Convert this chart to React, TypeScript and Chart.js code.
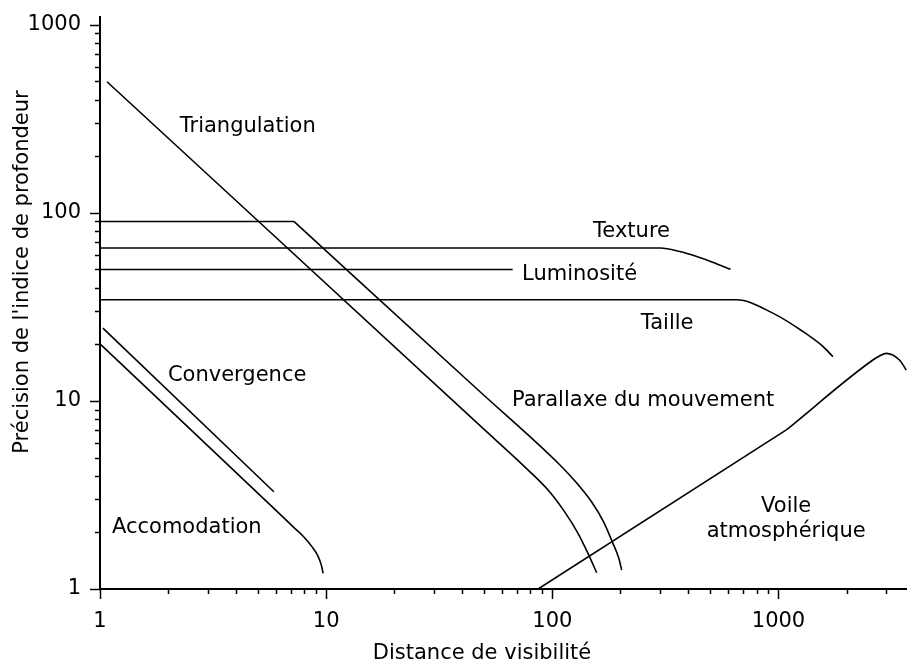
import { useEffect, useRef } from "react";
import { Chart, registerables } from "chart.js";

Chart.register(...registerables);

type P = { x: number; y: number };

// ---- data (log-log axes) ----
const xRange = [1, 3700];
const yRange = [1, 1100];
const xTickLabels = [1, 10, 100, 1000];
const yTickLabels = [1, 10, 100, 1000];

const triangulation: P[] = [
  { x: 1.074, y: 498 },
  { x: 47.77, y: 7.41 },
  { x: 79.46, y: 4.21 },
  { x: 97.4, y: 3.28 },
  { x: 113.4, y: 2.57 },
  { x: 129.5, y: 1.99 },
  { x: 144.8, y: 1.52 },
  { x: 157.1, y: 1.22 },
];
const parallaxeFlat: P[] = [
  { x: 1, y: 90 },
  { x: 7.2, y: 90 },
];
const parallaxeFall: P[] = [
  { x: 7.2, y: 90 },
  { x: 47.77, y: 11.22 },
  { x: 107.8, y: 4.58 },
  { x: 128.2, y: 3.66 },
  { x: 149.3, y: 2.9 },
  { x: 168.7, y: 2.27 },
  { x: 184.9, y: 1.76 },
  { x: 196.6, y: 1.46 },
  { x: 202.6, y: 1.26 },
];
const texture: P[] = [
  { x: 1, y: 65 },
  { x: 300, y: 65 },
  { x: 366, y: 62.3 },
  { x: 435, y: 58.6 },
  { x: 511, y: 54.7 },
  { x: 614, y: 50.07 },
];
const luminosite: P[] = [
  { x: 1, y: 50 },
  { x: 66.8, y: 50 },
];
const taille: P[] = [
  { x: 1, y: 34.5 },
  { x: 651, y: 34.5 },
  { x: 944, y: 29.3 },
  { x: 1282, y: 23.4 },
  { x: 1571, y: 19.5 },
  { x: 1740, y: 17.2 },
];
const voileRise: P[] = [
  { x: 86.5, y: 1 },
  { x: 1083, y: 7.01 },
];
const voileTop: P[] = [
  { x: 1083, y: 7.01 },
  { x: 2613, y: 16.5 },
  { x: 2797, y: 17.35 },
  { x: 2995, y: 17.9 },
  { x: 3427, y: 16.5 },
  { x: 3670, y: 14.6 },
];
const convergence: P[] = [
  { x: 1.03, y: 24.4 },
  { x: 5.87, y: 3.29 },
];
const accomodation: P[] = [
  { x: 1, y: 20.1 },
  { x: 5.64, y: 2.81 },
  { x: 7.15, y: 2.14 },
  { x: 7.97, y: 1.89 },
  { x: 8.65, y: 1.68 },
  { x: 9.19, y: 1.5 },
  { x: 9.52, y: 1.34 },
  { x: 9.7, y: 1.21 },
];

// curve names, anchored in data coordinates (centre x, baseline y)
const curveNames = [
  { text: ["Triangulation"], x: 4.5, y: 269 },
  { text: ["Texture"], x: 224, y: 74.8 },
  { text: ["Luminosité"], x: 132, y: 43.8 },
  { text: ["Taille"], x: 322, y: 24.1 },
  { text: ["Convergence"], x: 4.04, y: 12.8 },
  { text: ["Parallaxe du mouvement"], x: 252, y: 9.41 },
  { text: ["Voile", "atmosphérique"], x: 1081, y: 2.57 },
  { text: ["Accomodation"], x: 2.42, y: 1.98 },
];

const xTitle = "Distance de visibilité";
const yTitle = "Précision de l'indice de profondeur";

const FONT = '"DejaVu Sans", "Liberation Sans", sans-serif';
const FONT_SIZE = 21;

const tickPlugin = {
  id: "logTicks",
  afterDraw(chart: any) {
    const { ctx, chartArea, scales } = chart;
    const xs = scales.x;
    const ys = scales.y;
    ctx.save();
    ctx.strokeStyle = "#000";
    ctx.lineWidth = 1.5;
    for (let k = 0; k < 5; k++) {
      for (let d = 1; d <= 9; d++) {
        const v = d * Math.pow(10, k);
        const len = d === 1 ? 10 : 5;
        if (v >= ys.min && v <= ys.max) {
          const py = Math.round(ys.getPixelForValue(v)) + 0.5;
          ctx.beginPath();
          ctx.moveTo(chartArea.left - len, py);
          ctx.lineTo(chartArea.left, py);
          ctx.stroke();
        }
        if (v >= xs.min && v <= xs.max) {
          const px = Math.round(xs.getPixelForValue(v)) + 0.5;
          ctx.beginPath();
          ctx.moveTo(px, chartArea.bottom);
          ctx.lineTo(px, chartArea.bottom + len);
          ctx.stroke();
        }
      }
    }
    ctx.restore();
  },
};

const textPlugin = {
  id: "curveText",
  afterDraw(chart: any) {
    const { ctx, chartArea, scales } = chart;
    const xs = scales.x;
    const ys = scales.y;
    ctx.save();
    ctx.fillStyle = "#000";
    ctx.font = `${FONT_SIZE}px ${FONT}`;
    ctx.textAlign = "center";
    ctx.textBaseline = "alphabetic";
    curveNames.forEach((n) => {
      const px = xs.getPixelForValue(n.x);
      const py = ys.getPixelForValue(n.y);
      n.text.forEach((t, i) => ctx.fillText(t, px, py + i * 25.5));
    });
    // axis titles
    ctx.fillText(xTitle, chartArea.left + 382, chart.height - 5);
    ctx.translate(28, chartArea.top + 255);
    ctx.rotate(-Math.PI / 2);
    ctx.fillText(yTitle, 0, 0);
    ctx.restore();
  },
};

function ds(label: string, data: P[], curved: boolean) {
  return {
    label,
    data,
    borderColor: "#000",
    borderWidth: 1.6,
    pointRadius: 0,
    fill: false,
    tension: 0,
    cubicInterpolationMode: curved ? "monotone" : "default",
  };
}

const isPow10 = (v: number) => {
  const l = Math.log10(v);
  return Math.abs(l - Math.round(l)) < 1e-9;
};

const zeroPadding = (s: any) => {
  s.paddingLeft = 0;
  s.paddingRight = 0;
  s.paddingTop = 0;
  s.paddingBottom = 0;
};

export default function App() {
  const ref = useRef<HTMLCanvasElement | null>(null);
  useEffect(() => {
    if (!ref.current) return;
    const chart = new Chart(ref.current, {
      type: "line",
      data: {
        datasets: [
          ds("Triangulation", triangulation, true),
          ds("Parallaxe du mouvement", parallaxeFlat, false),
          ds("Parallaxe du mouvement", parallaxeFall, true),
          ds("Texture", texture, true),
          ds("Luminosité", luminosite, false),
          ds("Taille", taille, true),
          ds("Voile atmosphérique", voileRise, false),
          ds("Voile atmosphérique", voileTop, true),
          ds("Convergence", convergence, false),
          ds("Accomodation", accomodation, true),
        ] as any,
      },
      options: {
        responsive: false,
        animation: false,
        layout: { padding: { top: 17, right: 0, bottom: 0, left: 0 } },
        plugins: { legend: { display: false }, tooltip: { enabled: false } },
        scales: {
          x: {
            type: "logarithmic",
            min: xRange[0],
            max: xRange[1],
            grid: { display: false, drawTicks: false },
            border: { display: true, color: "#000", width: 2 },
            afterFit: (s: any) => {
              s.height = 75;
              zeroPadding(s);
            },
            ticks: {
              autoSkip: false,
              maxRotation: 0,
              padding: 20,
              color: "#000",
              font: { family: FONT, size: FONT_SIZE },
              callback: (v: any) =>
                isPow10(Number(v)) && xTickLabels.includes(Number(v)) ? String(v) : "",
            },
          },
          y: {
            type: "logarithmic",
            min: yRange[0],
            max: yRange[1],
            grid: { display: false, drawTicks: false },
            border: { display: true, color: "#000", width: 2 },
            afterFit: (s: any) => {
              s.width = 100;
              zeroPadding(s);
            },
            ticks: {
              autoSkip: false,
              padding: 19,
              color: "#000",
              font: { family: FONT, size: FONT_SIZE },
              callback: (v: any) =>
                isPow10(Number(v)) && yTickLabels.includes(Number(v)) ? String(v) : "",
            },
          },
        },
      } as any,
      plugins: [tickPlugin, textPlugin],
    });
    return () => chart.destroy();
  }, []);
  return (
    <div style={{ position: "absolute", left: 0, top: 0, width: 907, height: 664, background: "#fff" }}>
      <canvas ref={ref} width={907} height={664} style={{ display: "block" }} />
    </div>
  );
}
